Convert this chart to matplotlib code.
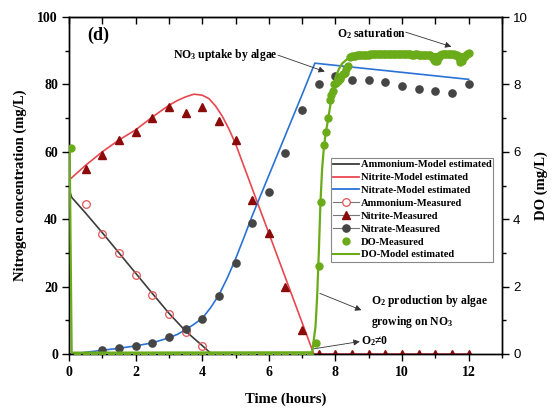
import matplotlib
matplotlib.use("Agg")
import matplotlib.pyplot as plt
from matplotlib.lines import Line2D
from matplotlib.ticker import MultipleLocator

plt.rcParams['font.family'] = ['Liberation Serif', 'DejaVu Serif']
plt.rcParams['font.weight'] = 'bold'
plt.rcParams['mathtext.fontset'] = 'custom'
plt.rcParams['mathtext.rm'] = 'Liberation Serif:bold'
plt.rcParams['mathtext.bf'] = 'Liberation Serif:bold'
plt.rcParams['mathtext.it'] = 'Liberation Serif:bold:italic'

# ---- model curves (mg/L) ----
amm_model_t = [0, 0.08, 0.5, 1, 1.5, 2, 2.5, 3, 3.5, 4, 4.28]
amm_model_y = [49, 46.5, 41.8, 36, 30, 24, 18, 12.1, 6.8, 2.5, 0]

nit_model_t = [0, 0.5, 1, 1.5, 2, 2.5, 3, 3.25, 3.5, 3.75, 4.0, 4.2, 4.4, 4.6, 4.8, 5.0, 7.35, 12]
nit_model_y = [51.6, 56, 60, 63.5, 66.5, 70.3, 73.8, 75.2, 76.3, 77.1, 76.8, 75.8, 73.6, 70.6, 66.8, 62.4, 0, 0]

nat_model_t = [0.0, 0.5, 1, 1.5, 2, 2.5, 3, 3.25, 3.5, 3.75, 4, 4.25, 4.5, 4.75, 5.0, 5.25, 5.5, 6.0, 6.5, 7.0, 7.38, 12]
nat_model_y = [0.0, 0.5, 1.1, 1.7, 2.4, 3.3, 4.8, 5.8, 7.2, 8.8, 10.6, 13.7, 17.5, 22.5, 28.2, 34.5, 41, 53, 65, 77, 86.3, 81.5]

# ---- measured nitrogen species (mg/L) ----
amm_meas_t = [0.5, 1, 1.5, 2, 2.5, 3, 3.5, 4]
amm_meas_y = [44.5, 35.5, 30, 23.5, 17.5, 12, 6.5, 2.3]

nit_meas_t = [0.5, 1, 1.5, 2, 2.5, 3, 3.5, 4, 4.5, 5, 5.5, 6, 6.5, 7,
              7.5, 8, 8.5, 9, 9.5, 10, 10.5, 11, 11.5, 12]
nit_meas_y = [55, 59, 63.5, 66, 70, 73.3, 71.5, 73.3, 69, 63.5, 45.7, 35.8, 20, 7.1,
              0, 0, 0, 0, 0, 0, 0, 0, 0, 0]

nat_meas_t = [1, 1.5, 2, 2.5, 3, 3.5, 4, 4.5, 5, 5.5, 6, 6.5, 7, 7.5,
              8, 8.5, 9, 9.5, 10, 10.5, 11, 11.5, 12]
nat_meas_y = [1.2, 1.7, 2.4, 3.4, 5.1, 7.4, 10.4, 17.3, 26.9, 39, 48.2, 59.7, 72.4, 80,
              82.5, 81.2, 81.2, 80.6, 79.5, 78.5, 78.1, 77.4, 80.1]

# ---- dissolved oxygen (mg/L) ----
do_model_t = [0.02, 0.08, 7.3, 7.4, 7.45, 7.5, 7.55, 7.6, 7.65, 7.7, 7.8, 7.9, 8.0, 8.1, 8.2, 8.35, 8.5, 8.8, 9.5, 12]
do_model_y = [6.1, 0.04, 0.05, 0.8, 1.7, 3.0, 4.5, 5.5, 6.1, 6.5, 7.1, 7.7, 8.2, 8.45, 8.62, 8.75, 8.82, 8.87, 8.9, 8.9]

do_meas_t = [0.06,
             0.25, 0.5, 0.75, 1.0, 1.25, 1.5, 1.75, 2.0, 2.25, 2.5, 2.75, 3.0, 3.25, 3.5,
             3.75, 4.0, 4.25, 4.5, 4.75, 5.0, 5.25, 5.5, 5.75, 6.0, 6.25, 6.5, 6.75, 7.0, 7.25,
             7.43, 7.51, 7.58, 7.66, 7.72, 7.78, 7.84, 7.88, 7.92, 7.97, 8.02, 8.07, 8.13,
             8.18, 8.23, 8.28, 8.33, 8.38,
             8.45, 8.5, 8.55, 8.6, 8.65, 8.7, 8.75, 8.8, 8.85, 8.9, 8.95, 9.0, 9.05, 9.1, 9.15,
             9.2, 9.25, 9.3, 9.35, 9.4, 9.45, 9.5, 9.55, 9.6, 9.65, 9.7, 9.75, 9.8, 9.85, 9.9,
             9.95, 10.0, 10.05, 10.1, 10.15, 10.2, 10.25, 10.3, 10.35, 10.4, 10.45, 10.5,
             10.55, 10.6, 10.65, 10.7, 10.75, 10.8, 10.85, 10.9, 10.95, 11.0, 11.05, 11.1,
             11.15, 11.2, 11.25, 11.3, 11.35, 11.4, 11.45, 11.5, 11.55, 11.6, 11.65, 11.7,
             11.75, 11.8, 11.85, 11.9, 11.95, 12.0]
do_meas_y = [6.1,
             -0.05, -0.05, -0.05, -0.05, -0.05, -0.05, -0.05, -0.05, -0.05, -0.05, -0.05,
             -0.05, -0.05, -0.05, -0.05, -0.05, -0.05, -0.05, -0.05, -0.05, -0.05, -0.05,
             -0.05, -0.05, -0.05, -0.05, -0.05, -0.05, -0.05,
             0.34, 2.6, 4.5, 6.2, 6.6, 7.0, 7.55, 7.7, 7.8, 8.0, 8.05, 8.1, 8.15,
             8.25, 8.3, 8.35, 8.45, 8.55,
             8.82, 8.83, 8.84, 8.85, 8.86, 8.86, 8.86, 8.87, 8.87, 8.88, 8.88, 8.88, 8.89,
             8.89, 8.89, 8.89, 8.9, 8.9, 8.9, 8.9, 8.9, 8.9, 8.9, 8.9, 8.9, 8.9, 8.89, 8.89,
             8.9, 8.9, 8.9, 8.9, 8.89, 8.89, 8.9, 8.9, 8.89, 8.88, 8.88, 8.89, 8.89, 8.88,
             8.88, 8.88, 8.88, 8.88, 8.88, 8.87, 8.86, 8.8, 8.72, 8.68, 8.7, 8.8,
             8.87, 8.9, 8.9, 8.9, 8.9, 8.9, 8.9, 8.89, 8.89, 8.88, 8.86, 8.78,
             8.66, 8.7, 8.8, 8.85, 8.9, 8.92]

gray_c = '#3c3c3c'
red_c = '#e8474f'
blue_c = '#2b72d6'
amm_edge = '#e05656'
nitrite_c = '#8b0a0a'
nitrate_c = '#454545'
green_c = '#6aab19'

fig = plt.figure(figsize=(5.52, 4.11), dpi=100)
ax = fig.add_axes([0.125, 0.1387, 0.7844, 0.8199])
ax2 = ax.twinx()

ax.plot(amm_model_t, amm_model_y, color=gray_c, lw=1.2, zorder=2)
ax.plot(nit_model_t, nit_model_y, color=red_c, lw=1.2, zorder=2)
ax.plot(nat_model_t, nat_model_y, color=blue_c, lw=1.2, zorder=2)

ax.plot(amm_meas_t, amm_meas_y, ls='none', marker='o', ms=5.5, mfc='none',
        mec=amm_edge, mew=0.9, zorder=3)
ax.plot(nit_meas_t, nit_meas_y, ls='none', marker='^', ms=5.5, color=nitrite_c, zorder=3)
ax.plot(nat_meas_t, nat_meas_y, ls='none', marker='o', ms=5.2, color=nitrate_c, zorder=3)

ax2.plot(do_meas_t, do_meas_y, ls='none', marker='o', ms=5, color=green_c, zorder=3)
ax2.plot(do_model_t, do_model_y, color=green_c, lw=1.6, zorder=4)

ax.set_xlim(0, 13)
ax.set_ylim(0, 100)
ax2.set_ylim(0, 10)

ax.xaxis.set_major_locator(MultipleLocator(2))
ax.xaxis.set_minor_locator(MultipleLocator(1))
ax.yaxis.set_major_locator(MultipleLocator(20))
ax.yaxis.set_minor_locator(MultipleLocator(10))
ax2.yaxis.set_major_locator(MultipleLocator(2))
ax2.yaxis.set_minor_locator(MultipleLocator(1))

ax.tick_params(axis='both', which='major', direction='out', length=5, width=1,
               labelsize=10, pad=3)
ax.tick_params(axis='both', which='minor', direction='out', length=3, width=1)
ax.tick_params(axis='x', which='major', pad=4)
ax2.tick_params(axis='y', which='major', direction='out', length=5, width=1,
                labelsize=9.5, pad=3, labelfontfamily='Liberation Sans')
ax2.tick_params(axis='y', which='minor', direction='out', length=3, width=1)
for lab in ax2.get_yticklabels():
    lab.set_fontweight('normal')

top = ax.secondary_xaxis('top')
top.xaxis.set_major_locator(MultipleLocator(1))
top.tick_params(direction='in', length=5, width=1, labeltop=False)

for a in (ax, ax2):
    for s in a.spines.values():
        s.set_linewidth(1.0)

ax.set_xlabel('Time (hours)', fontsize=10.5, fontweight='bold')
ax.set_ylabel('Nitrogen concentration (mg/L)', fontsize=10.5, fontweight='bold')
ax2.set_ylabel('DO (mg/L)', fontsize=10.5, fontweight='bold')
ax.xaxis.set_label_coords(0.5, -0.115)
ax.yaxis.set_label_coords(-0.097, 0.5)
ax2.yaxis.set_label_coords(1.076, 0.5)

ax.text(0.87, 94.5, '(d)', fontsize=13, fontweight='bold', ha='center', va='center')

arrow_kw = dict(arrowstyle='-|>', color='#333333', lw=0.6, mutation_scale=9,
                shrinkA=0, shrinkB=0)

ax2.text(6.25, 8.87, 'NO$_\\mathbf{3}$ uptake by algae', fontsize=8.4,
         ha='right', va='center')
ax2.annotate('', xy=(7.68, 8.38), xytext=(6.27, 8.87), arrowprops=arrow_kw)

ax2.text(9.1, 9.52, 'O$_\\mathbf{2}$ saturation', fontsize=8.4, ha='center', va='center')
ax2.annotate('', xy=(11.48, 9.12), xytext=(10.11, 9.55), arrowprops=arrow_kw)

ax2.text(9.08, 1.26, 'O$_\\mathbf{2}$ production by algae\ngrowing on NO$_\\mathbf{3}$',
         fontsize=8.4, ha='left', va='center', linespacing=1.45)
ax2.annotate('', xy=(8.78, 1.3), xytext=(7.53, 1.8), arrowprops=arrow_kw)

ax2.text(8.78, 0.38, 'O$_\\mathbf{2}$≠0', fontsize=8.4, ha='left', va='center')
ax2.annotate('', xy=(8.73, 0.37), xytext=(7.33, 0.15), arrowprops=arrow_kw)

handles = [
    Line2D([], [], color=gray_c, lw=1.3),
    Line2D([], [], color=red_c, lw=1.3),
    Line2D([], [], color=blue_c, lw=1.3),
    Line2D([], [], color='#777777', lw=0.8, marker='o', ms=5.5, mfc='white',
           mec=amm_edge, mew=0.9),
    Line2D([], [], color='#777777', lw=0.8, marker='^', ms=5.5, mfc=nitrite_c, mec=nitrite_c),
    Line2D([], [], color='#777777', lw=0.8, marker='o', ms=5.2, mfc=nitrate_c, mec=nitrate_c),
    Line2D([], [], ls='none', marker='o', ms=5, color=green_c),
    Line2D([], [], color=green_c, lw=1.5),
]
labels = ['Ammonium-Model estimated', 'Nitrite-Model estimated', 'Nitrate-Model estimated',
          'Ammonium-Measured', 'Nitrite-Measured', 'Nitrate-Measured',
          'DO-Measured', 'DO-Model estimated']
leg = ax2.legend(handles, labels, loc='upper left', bbox_to_anchor=(0.605, 0.582),
                 fontsize=7.6, frameon=True, fancybox=False, edgecolor='#888888',
                 framealpha=1, borderpad=0.2, labelspacing=0.33, handlelength=2.45,
                 handletextpad=0.15, borderaxespad=0)
leg.get_frame().set_linewidth(0.8)

fig.savefig('out.png', dpi=100)
